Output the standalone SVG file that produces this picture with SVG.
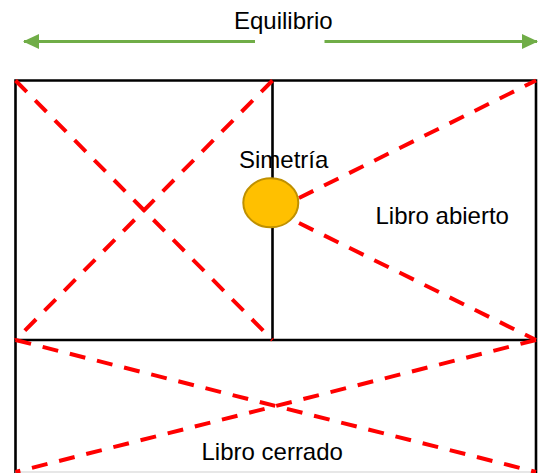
<svg xmlns="http://www.w3.org/2000/svg" width="538" height="473" viewBox="0 0 538 473">
<defs>
<style>
.frame{fill:none;stroke:#000;stroke-width:2.6}
.dash{fill:none;stroke:#FF0000;stroke-width:4;stroke-dasharray:16 12}
.arrow{fill:none;stroke:#70AD47;stroke-width:3}
.lbl{font-family:"Liberation Sans",Arial,sans-serif;font-size:24px;fill:#000}
</style>
<marker id="ah" viewBox="0 0 16 15" refX="15" refY="7.5" markerWidth="16" markerHeight="15" markerUnits="userSpaceOnUse" orient="auto">
<path d="M0,0 L16,7.5 L0,15 Z" fill="#70AD47"/>
</marker>
</defs>
<rect width="538" height="473" fill="#fff"/>
<g id="frame">
<path class="frame" d="M15.5,473 V80.5 H536 V473 M15.5,340 H536 M272.5,80.5 V340"/>
<line x1="15" y1="472" x2="536" y2="472" stroke="#d0d0d0" stroke-width="1.2"/>
</g>
<g id="connectors">
<line class="arrow" x1="255" y1="41.5" x2="24" y2="41.5" marker-end="url(#ah)"/>
<line class="arrow" x1="324.5" y1="41.5" x2="537" y2="41.5" marker-end="url(#ah)"/>
<line class="dash" x1="15.5" y1="80.5" x2="272.5" y2="340"/>
<line class="dash" x1="272.5" y1="80.5" x2="15.5" y2="340"/>
<line class="dash" x1="299" y1="198" x2="536" y2="80.5"/>
<line class="dash" x1="299" y1="223" x2="536" y2="340"/>
<line class="dash" x1="15.5" y1="340" x2="536" y2="472"/>
<line class="dash" x1="536" y1="340" x2="15.5" y2="472"/>
</g>
<g id="equilibrio"><text class="lbl" x="234" y="28.5">Equilibrio</text></g>
<g id="simetria">
<text class="lbl" x="239" y="167.5">Simetría</text>
<ellipse cx="270.8" cy="202.8" rx="27.5" ry="24.5" fill="#FFC000" stroke="#BF9000" stroke-width="2"/>
</g>
<g id="libro-abierto"><text class="lbl" x="375.5" y="224.3">Libro abierto</text></g>
<g id="libro-cerrado"><text class="lbl" x="201.5" y="460">Libro cerrado</text></g>
</svg>
